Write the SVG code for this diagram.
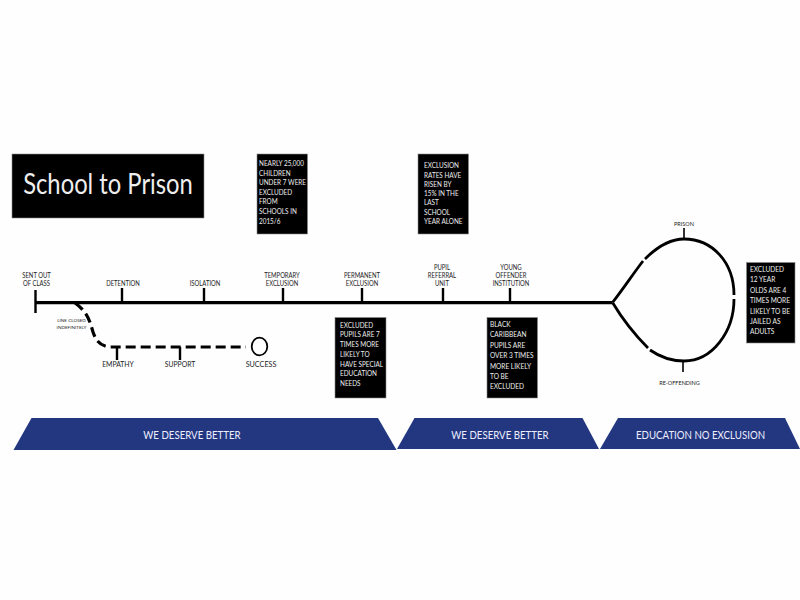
<svg xmlns="http://www.w3.org/2000/svg" width="800" height="600" viewBox="0 0 800 600">
<style>
text{font-family:"Lato","Liberation Sans",sans-serif}
.box{fill:#000;stroke:#8a8a8a;stroke-width:.6}
.note{font-size:8.2px;fill:#eee}
.lab{font-size:6.8px;fill:#222;text-anchor:middle}
.lab2{font-size:7.6px;fill:#222;text-anchor:middle}
.tiny{font-size:4.6px;fill:#222;text-anchor:middle}
.small{font-size:5.500px;fill:#222;text-anchor:middle}
.line{fill:none;stroke:#000;stroke-width:3.2}
.loop{fill:none;stroke:#000;stroke-width:2.8}
.tick{fill:none;stroke:#000;stroke-width:2.4}
.tick2{fill:none;stroke:#000;stroke-width:1.6}
.ban{fill:#223780}
.bt{font-size:11px;fill:#eef;text-anchor:middle}
</style>
<rect width="800" height="600" fill="#fefefe"/>
<g id="connectors">
<path class="line" d="M36 302.7H612"/>
<path class="tick" d="M35.500 290V313M122 288V302M204 288V302M283 288V302M362 288V302M443 288V302M510 288V302"/>
<path class="line" d="M75 303C88 312 90 322 93 332C96 341 100 345 108 347H246" stroke-dasharray="10 5"/>
<path class="tick" d="M117 347V360M180 347V360"/>
<path class="loop" d="M612.500 302.500C623 289 633 274 643 261M645 259C657 247 670 239 684 239C712 239 734 262 734 295M734 299C734 332 712 361 684 361C671 361 660 357 650 350M648 348C635 335 623 320 612.500 302.500"/>
<path class="tick2" d="M684 228V239M683 361V372"/>
</g>
<g id="title"><rect class="box" x="12" y="154" width="192" height="64"/><text transform="translate(108 194) scale(.85 1)" font-size="28" fill="#eee" text-anchor="middle">School to Prison</text></g>
<g id="note-1"><rect class="box" x="257" y="154" width="50.500" height="80"/><text class="note" transform="translate(259 0) scale(.78 1)"><tspan x="0" y="166">NEARLY 25,000</tspan><tspan x="0" y="176">CHILDREN</tspan><tspan x="0" y="185.500">UNDER 7 WERE</tspan><tspan x="0" y="195">EXCLUDED</tspan><tspan x="0" y="204.500">FROM</tspan><tspan x="0" y="214">SCHOOLS IN</tspan><tspan x="0" y="224">2015/6</tspan></text></g>
<g id="note-2"><rect class="box" x="418" y="154" width="50.500" height="80"/><text class="note" transform="translate(424 0) scale(.78 1)"><tspan x="0" y="168">EXCLUSION</tspan><tspan x="0" y="178">RATES HAVE</tspan><tspan x="0" y="187">RISEN BY</tspan><tspan x="0" y="196.500">15% IN THE</tspan><tspan x="0" y="205.500">LAST</tspan><tspan x="0" y="215">SCHOOL</tspan><tspan x="0" y="224.500">YEAR ALONE</tspan></text></g>
<g id="note-3"><rect class="box" x="335" y="317.500" width="51" height="80.500"/><text class="note" transform="translate(340 0) scale(.78 1)"><tspan x="0" y="328">EXCLUDED</tspan><tspan x="0" y="337.500">PUPILS ARE 7</tspan><tspan x="0" y="347.500">TIMES MORE</tspan><tspan x="0" y="357">LIKELY TO</tspan><tspan x="0" y="367">HAVE SPECIAL</tspan><tspan x="0" y="376.500">EDUCATION</tspan><tspan x="0" y="386">NEEDS</tspan></text></g>
<g id="note-4"><rect class="box" x="487" y="317.500" width="50.500" height="80.500"/><text class="note" transform="translate(490 0) scale(.8 1)"><tspan x="0" y="327">BLACK</tspan><tspan x="0" y="337.500">CARIBBEAN</tspan><tspan x="0" y="348">PUPILS ARE</tspan><tspan x="0" y="358.500">OVER 3 TIMES</tspan><tspan x="0" y="369">MORE LIKELY</tspan><tspan x="0" y="379">TO BE</tspan><tspan x="0" y="389.500">EXCLUDED</tspan></text></g>
<g id="note-5"><rect class="box" x="746.500" y="262.500" width="48.500" height="80.500"/><text class="note" transform="translate(750 0) scale(.8 1)"><tspan x="0" y="272">EXCLUDED</tspan><tspan x="0" y="282.500">12 YEAR</tspan><tspan x="0" y="293">OLDS ARE 4</tspan><tspan x="0" y="303.500">TIMES MORE</tspan><tspan x="0" y="314">LIKELY TO BE</tspan><tspan x="0" y="324">JAILED AS</tspan><tspan x="0" y="334.500">ADULTS</tspan></text></g>
<g id="stage-sent"><text class="lab" transform="translate(36.500 0) scale(.87 1)"><tspan x="0" y="278">SENT OUT</tspan><tspan x="0" y="286">OF CLASS</tspan></text></g>
<g id="stage-detention"><text class="lab" transform="translate(123 286) scale(.87 1)">DETENTION</text></g>
<g id="stage-isolation"><text class="lab" transform="translate(205 286) scale(.87 1)">ISOLATION</text></g>
<g id="stage-temporary"><text class="lab" transform="translate(282 0) scale(.87 1)"><tspan x="0" y="278">TEMPORARY</tspan><tspan x="0" y="286">EXCLUSION</tspan></text></g>
<g id="stage-permanent"><text class="lab" transform="translate(362 0) scale(.87 1)"><tspan x="0" y="278">PERMANENT</tspan><tspan x="0" y="286">EXCLUSION</tspan></text></g>
<g id="stage-pru"><text class="lab" transform="translate(442 0) scale(.87 1)"><tspan x="0" y="270">PUPIL</tspan><tspan x="0" y="278">REFERRAL</tspan><tspan x="0" y="286">UNIT</tspan></text></g>
<g id="stage-yoi"><text class="lab" transform="translate(511 0) scale(.87 1)"><tspan x="0" y="270">YOUNG</tspan><tspan x="0" y="278">OFFENDER</tspan><tspan x="0" y="286">INSTITUTION</tspan></text></g>
<g id="stage-closed"><text class="tiny"><tspan x="71.500" y="322">LINE CLOSED</tspan><tspan x="71.500" y="329">INDEFINITELY</tspan></text></g>
<g id="stage-empathy"><text class="lab2" transform="translate(118 367) scale(.9 1)">EMPATHY</text></g>
<g id="stage-support"><text class="lab2" transform="translate(180 367) scale(.9 1)">SUPPORT</text></g>
<g id="stage-success"><ellipse cx="259.500" cy="346.500" rx="7.800" ry="8.800" fill="#fff" stroke="#000" stroke-width="1.800"/><text class="lab2" transform="translate(261 367) scale(.95 1)">SUCCESS</text></g>
<g id="stage-prison"><text class="small" x="684" y="226">PRISON</text></g>
<g id="stage-reoffending"><text class="small" x="679.500" y="384.500">RE-OFFENDING</text></g>
<g id="banner-1"><path class="ban" d="M13.500 450L31.500 418H378L396.500 450Z"/><text class="bt" transform="translate(192 438.500) scale(.88 1)">WE DESERVE BETTER</text></g>
<g id="banner-2"><path class="ban" d="M397 449L414.500 418H582.500L599 449Z"/><text class="bt" transform="translate(500 438.500) scale(.88 1)">WE DESERVE BETTER</text></g>
<g id="banner-3"><path class="ban" d="M600 449L618 418H785L800 449Z"/><text class="bt" transform="translate(700.500 438.500) scale(.88 1)">EDUCATION NO EXCLUSION</text></g>
</svg>
